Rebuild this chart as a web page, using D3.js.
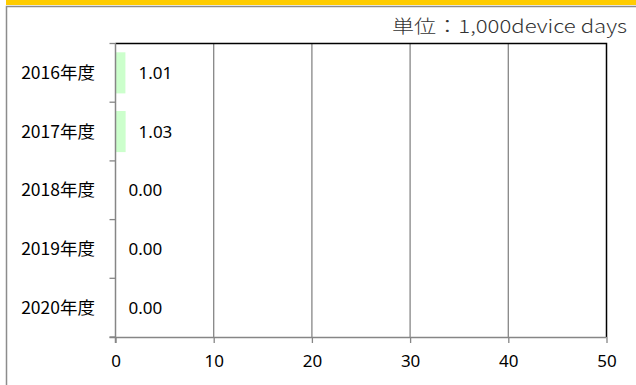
<!DOCTYPE html>
<html>
<head>
<meta charset="utf-8">
<script src="https://cdn.jsdelivr.net/npm/d3@7"></script>
<style>
  body { margin: 0; background: #fff; }
</style>
</head>
<body>
<div id="chart"></div>
<script>
// データ
const years = ["2016年度", "2017年度", "2018年度", "2019年度", "2020年度"];
const values = [1.01, 1.03, 0.00, 0.00, 0.00];
const xTicks = [0, 10, 20, 30, 40, 50];
const unitLabel = "単位：1,000device days";

const width = 636;
const height = 385;
const margin = { top: 43.5, right: 29.5, bottom: 48, left: 115.5 };

const svg = d3.select("#chart")
    .append("svg")
    .attr("width", width)
    .attr("height", height);

// 外枠（黄色の帯と灰色の線）
svg.append("rect")
    .attr("x", 6).attr("y", 0)
    .attr("width", width - 6).attr("height", 5)
    .attr("fill", "#ffcc00");
svg.append("path")
    .attr("d", `M6.5,${height} V6.5 H${width}`)
    .attr("fill", "none")
    .attr("stroke", "#8c8c8c")
    .attr("stroke-width", 1.5);

const x = d3.scaleLinear()
    .domain([0, 50])
    .range([margin.left, width - margin.right]);

const y = d3.scaleBand()
    .domain(years)
    .range([margin.top, height - margin.bottom])
    .paddingInner(0.3)
    .paddingOuter(0.15);

const plotTop = margin.top;
const plotBottom = height - margin.bottom;

// グリッド線
svg.append("g")
    .selectAll("line")
    .data(xTicks.slice(1, -1))
    .enter()
    .append("line")
    .attr("x1", d => x(d)).attr("x2", d => x(d))
    .attr("y1", plotTop).attr("y2", plotBottom)
    .attr("stroke", "#868686")
    .attr("stroke-width", 1.3);

// プロットエリア枠（上・右）
svg.append("path")
    .attr("d", `M${x(0)},${plotTop} H${x(50)} V${plotBottom}`)
    .attr("fill", "none")
    .attr("stroke", "#000")
    .attr("stroke-width", 1.5);

// 棒
svg.selectAll(".bar")
    .data(values)
    .enter()
    .append("rect")
    .attr("class", "bar")
    .attr("x", x(0))
    .attr("y", (d, i) => y(years[i]))
    .attr("width", d => x(d) - x(0))
    .attr("height", y.bandwidth())
    .attr("fill", "#ccffcc");

// X軸
const xAxis = svg.append("g")
    .attr("transform", `translate(0,${plotBottom})`)
    .call(d3.axisBottom(x).tickValues(xTicks).tickSize(6).tickPadding(12).tickFormat(d3.format("d")));
xAxis.select(".domain").attr("stroke", "#868686").attr("stroke-width", 1.5)
    .attr("d", `M${x(0) - 6},0.5H${x(50)}`);
xAxis.selectAll(".tick line").attr("stroke", "#868686").attr("stroke-width", 1.3);
xAxis.selectAll("text")
    .style("font-family", "'Noto Sans', 'Noto Sans CJK JP', sans-serif")
    .style("font-size", "17px")
    .attr("fill", "#000");

// Y軸（区切り目盛）
const yAxis = svg.append("g");
yAxis.append("line")
    .attr("x1", x(0)).attr("x2", x(0))
    .attr("y1", plotTop).attr("y2", plotBottom + 6)
    .attr("stroke", "#868686")
    .attr("stroke-width", 1.5);
yAxis.selectAll(".ytick")
    .data(d3.range(years.length + 1))
    .enter()
    .append("line")
    .attr("class", "ytick")
    .attr("x1", x(0) - 6).attr("x2", x(0))
    .attr("y1", i => plotTop + i * (plotBottom - plotTop) / years.length)
    .attr("y2", i => plotTop + i * (plotBottom - plotTop) / years.length)
    .attr("stroke", "#868686")
    .attr("stroke-width", 1.3);
yAxis.selectAll(".ylabel")
    .data(years)
    .enter()
    .append("text")
    .attr("class", "ylabel")
    .attr("x", 95)
    .attr("y", d => y(d) + y.bandwidth() / 2)
    .attr("dy", "0.35em")
    .attr("text-anchor", "end")
    .style("font-family", "'Noto Sans CJK JP', sans-serif")
    .style("font-size", "17.5px")
    .text(d => d);

// 値ラベル
svg.selectAll(".val")
    .data(values)
    .enter()
    .append("text")
    .attr("class", "val")
    .attr("x", d => x(d) + 13)
    .attr("y", (d, i) => y(years[i]) + y.bandwidth() / 2)
    .attr("dy", "0.35em")
    .style("font-family", "'Noto Sans', sans-serif")
    .style("font-size", "17px")
    .text(d => d.toFixed(2));

// 単位
svg.append("text")
    .attr("x", 627)
    .attr("y", 33)
    .attr("text-anchor", "end")
    .attr("textLength", 235)
    .attr("lengthAdjust", "spacingAndGlyphs")
    .style("font-family", "'Noto Sans CJK JP', sans-serif")
    .style("font-size", "18px")
    .style("font-weight", 300)
    .attr("fill", "#333")
    .text(unitLabel);
</script>
</body>
</html>
